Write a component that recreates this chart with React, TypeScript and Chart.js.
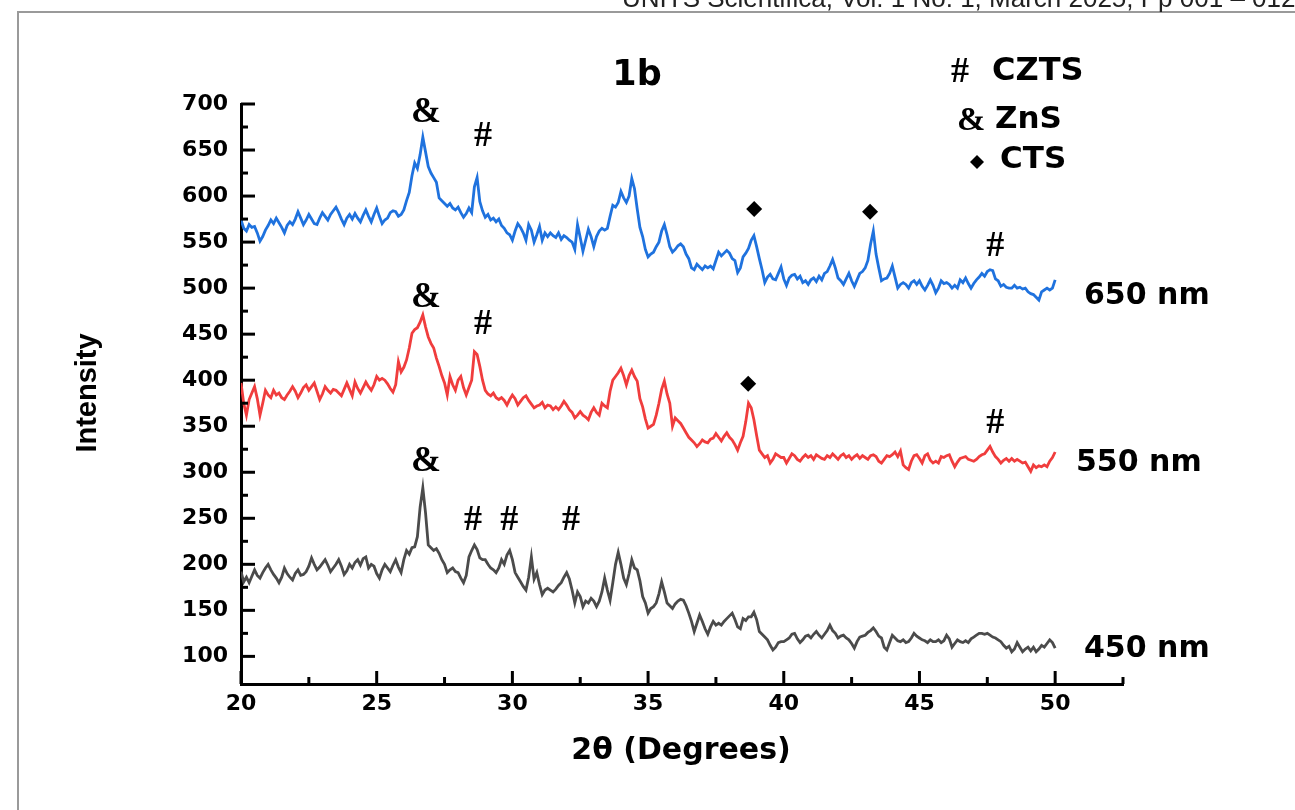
import React, { useEffect, useRef } from "react";
import { Chart, registerables } from "chart.js";

Chart.register(...registerables);

// 2θ sampling grid: 20.0 .. 50.0 every 0.1 degree
const THETA_START = 20;
const THETA_STEP = 0.1;

const intensity650 = [
  574, 565, 562, 569, 566, 567, 560, 551, 556, 563,
  568, 574, 570, 576, 571, 566, 560, 568, 572, 569,
  575, 583, 576, 569, 574, 580, 575, 570, 569, 576,
  582, 578, 574, 580, 584, 588, 582, 575, 569, 576,
  580, 575, 581, 576, 572, 579, 585, 578, 572, 580,
  587, 578, 570, 574, 576, 582, 584, 583, 578, 580,
  585, 595, 604, 622, 636, 630, 645, 664, 648, 632,
  625, 620, 615, 598, 595, 592, 589, 592, 587, 585,
  588, 582, 577, 581, 587, 582, 610, 620, 594, 584,
  577, 580, 574, 576, 572, 575, 568, 565, 560, 558,
  552, 562, 570, 566, 560, 552, 569, 563, 550, 558,
  567, 552, 560, 556, 560, 557, 555, 560, 553, 557,
  555, 552, 550, 542, 569, 555, 540, 552, 564, 556,
  545, 556, 562, 565, 563, 565, 578, 590, 588, 593,
  605, 598, 593, 600, 619, 608, 586, 566, 556, 542,
  534, 537, 539, 545, 550, 562, 569, 558, 545, 539,
  542, 546, 548, 545, 537, 532, 522, 520, 526, 523,
  520, 524, 522, 524, 521, 530, 539, 535, 538, 541,
  538, 532, 530, 517, 522, 534, 538, 543, 552, 557,
  545, 532, 520, 506, 512, 515, 510, 509, 516, 523,
  510, 503, 511, 514, 515, 510, 513, 506, 508, 504,
  509, 511, 507, 513, 509, 516, 518, 524, 531, 522,
  511, 508, 504, 510, 516, 508, 502, 509, 516, 518,
  522, 530, 548, 562, 537, 522, 508, 510, 511, 516,
  524, 512, 500, 504, 506, 504, 500, 506, 508, 504,
  508, 502, 498, 503, 509, 503, 495, 500, 508, 505,
  506, 504, 500, 503, 500, 509, 506, 511, 505, 500,
  505, 509, 512, 516, 513, 518, 520, 519, 510, 508,
  502, 504, 501, 500, 500, 503, 500, 501, 499, 500,
  496, 494, 493, 490, 487, 496, 498, 500, 498, 500,
  509,
];

const intensity550 = [
  397, 375, 362, 379, 386, 393, 380, 362, 375, 389,
  384, 381, 389, 384, 386, 381, 379, 384, 388, 393,
  388, 381, 386, 392, 395, 389, 393, 397, 388, 379,
  385, 393, 389, 386, 390, 389, 386, 383, 390, 397,
  390, 383, 398, 391, 386, 392, 398, 393, 389, 395,
  404, 400, 402, 400, 396, 391, 387, 395, 420, 409,
  414, 422, 435, 451, 455, 457, 463, 471, 458, 447,
  440, 435, 424, 415, 405, 397, 384, 404, 395, 389,
  400, 404, 392, 384, 392, 400, 431, 428, 415, 400,
  389, 385, 383, 386, 381, 379, 381, 378, 373, 379,
  384, 380, 373, 377, 381, 383, 378, 374, 370, 372,
  373, 376, 370, 373, 372, 368, 371, 368, 372, 377,
  373, 368, 365, 359, 362, 366, 362, 360, 357, 365,
  370, 365, 362, 375, 372, 370, 388, 400, 404, 408,
  413, 405, 395, 405, 411, 404, 399, 380, 371, 358,
  348, 350, 352, 362, 375, 390, 399, 385, 375, 350,
  359, 356, 353, 348, 343, 338, 335, 332, 328, 331,
  335, 333, 332, 336, 337, 342, 338, 334, 339, 343,
  338, 335, 330, 324, 332, 339, 355, 375, 370, 357,
  340, 324, 320, 316, 318, 310, 314, 320, 318, 316,
  316, 310, 315, 320, 318, 314, 312, 316, 319, 316,
  318, 314, 319, 317, 315, 314, 318, 316, 320, 317,
  314, 318, 320, 316, 318, 314, 317, 319, 315, 318,
  316, 314, 318, 319, 317, 312, 310, 314, 318, 317,
  319, 322, 317, 323, 308, 305, 303, 312, 318, 319,
  315, 310, 318, 320, 313, 310, 312, 310, 317, 316,
  318, 319, 312, 306, 311, 315, 316, 317, 314, 313,
  312, 314, 317, 319, 320, 324, 328, 322, 317, 314,
  310, 313, 315, 312, 315, 312, 314, 312, 310, 311,
  306, 301, 308, 305, 307, 306, 308, 306, 312, 316,
  322,
];

const intensity450 = [
  192, 181, 186, 180, 187, 194, 188, 185, 191, 196,
  200, 194, 189, 185, 180, 186, 196, 190, 186, 183,
  190, 194, 188, 189, 192, 198, 207, 200, 194, 197,
  201, 205, 199, 192, 196, 200, 205, 198, 189, 193,
  200, 196, 202, 205, 199, 206, 208, 196, 200, 198,
  190, 185, 194, 200, 196, 192, 199, 205, 197, 191,
  205, 215, 211, 218, 219, 230, 262, 283, 256, 221,
  218, 215, 217, 212, 205, 200, 191, 194, 196, 192,
  191, 185, 180, 188, 208, 215, 221, 216, 207, 205,
  205, 200, 196, 194, 191, 196, 205, 200, 210, 215,
  205, 191, 186, 181, 176, 172, 186, 208, 184, 191,
  178, 167, 172, 174, 172, 170, 173, 177, 180, 186,
  191, 184, 172, 158, 170, 165, 154, 160, 158, 163,
  160, 154, 160, 170, 185, 172, 161, 180, 200, 213,
  200, 185, 178, 190, 205, 196, 194, 182, 165, 158,
  147, 152, 154, 158, 168, 181, 170, 158, 155, 152,
  157, 160, 162, 161, 155, 147, 138, 127, 136, 145,
  138, 130, 124, 132, 138, 134, 136, 134, 138, 141,
  144, 147, 140, 132, 130, 141, 139, 143, 143, 148,
  140, 127, 124, 121, 118, 112, 107, 110, 115, 116,
  116, 118, 120, 124, 125, 119, 115, 118, 122, 123,
  120, 124, 127, 123, 120, 124, 128, 134, 128, 125,
  120, 122, 123, 120, 118, 114, 109, 116, 121, 122,
  123, 126, 128, 131, 127, 122, 120, 110, 107, 115,
  123, 120, 117, 116, 118, 115, 116, 120, 125, 122,
  120, 118, 117, 115, 118, 116, 116, 118, 115, 117,
  123, 119, 110, 114, 118, 116, 115, 117, 115, 119,
  121, 123, 125, 125, 124, 125, 123, 121, 120, 118,
  116, 112, 109, 111, 105, 108, 115, 110, 105, 108,
  110, 106, 110, 105, 108, 112, 110, 114, 118, 115,
  109,
];

const seriesNames = ["450 nm", "550 nm", "650 nm"];
const xTickValues = [20, 25, 30, 35, 40, 45, 50];
const xMinorValues = [22.5, 27.5, 32.5, 37.5, 42.5, 47.5, 52.5];
const yTickValues = [100, 150, 200, 250, 300, 350, 400, 450, 500, 550, 600, 650, 700];
const yMinorValues = [125, 175, 225, 275, 325, 375, 425, 475, 525, 575, 625, 675];

// phase annotations (2θ, intensity)
const znsMarks = [[26.82, 691], [26.82, 490], [26.82, 311]];
const cztsMarks = [[28.92, 664], [28.92, 460], [28.55, 247], [29.88, 247], [32.16, 247], [47.79, 545], [47.79, 353]];
const ctsMarks = [[38.91, 586], [43.18, 583], [38.69, 396]];

const SANS = '"DejaVu Sans"';
const SERIF = '"Liberation Serif"';

function toPoints(values: number[]) {
  return values.map((v, i) => ({ x: +(THETA_START + i * THETA_STEP).toFixed(2), y: v }));
}

function drawDiamond(ctx: CanvasRenderingContext2D, x: number, y: number, r: number) {
  ctx.beginPath();
  ctx.moveTo(x, y - r);
  ctx.lineTo(x + r, y);
  ctx.lineTo(x, y + r);
  ctx.lineTo(x - r, y);
  ctx.closePath();
  ctx.fill();
}

const decorPlugin = {
  id: "decor",
  beforeDraw(chart: any) {
    const ctx: CanvasRenderingContext2D = chart.ctx;
    ctx.save();
    ctx.fillStyle = "#ffffff";
    ctx.fillRect(0, 0, chart.width, chart.height);
    ctx.strokeStyle = "#9a9a9a";
    ctx.lineWidth = 2;
    ctx.beginPath();
    ctx.moveTo(18, chart.height);
    ctx.lineTo(18, 12);
    ctx.lineTo(chart.width, 12);
    ctx.stroke();
    ctx.fillStyle = "#222";
    ctx.font = '26px "Liberation Sans"';
    ctx.textBaseline = "alphabetic";
    ctx.textAlign = "left";
    ctx.fillText("UNITS Scientifica, Vol. 1 No. 1, March 2025, Pp 001 \u2013 012", 622, 7);
    ctx.restore();
  },
  afterDraw(chart: any) {
    const ctx: CanvasRenderingContext2D = chart.ctx;
    const xs = chart.scales.x;
    const ys = chart.scales.y;
    const { left, bottom } = chart.chartArea;
    ctx.save();
    ctx.strokeStyle = "#000";
    ctx.lineWidth = 3;
    ctx.lineCap = "butt";
    const line = (x1: number, y1: number, x2: number, y2: number) => {
      ctx.beginPath();
      ctx.moveTo(x1, y1);
      ctx.lineTo(x2, y2);
      ctx.stroke();
    };
    xTickValues.forEach((v) => {
      const px = xs.getPixelForValue(v);
      line(px, bottom, px, bottom - 13);
    });
    xMinorValues.forEach((v) => {
      const px = xs.getPixelForValue(v);
      line(px, bottom, px, bottom - 7);
    });
    yTickValues.forEach((v) => {
      const py = ys.getPixelForValue(v);
      line(left, py, left + 14, py);
    });
    yMinorValues.forEach((v) => {
      const py = ys.getPixelForValue(v);
      line(left, py, left + 7, py);
    });

    ctx.fillStyle = "#000";
    ctx.textAlign = "center";
    ctx.textBaseline = "middle";
    // annotations
    ctx.font = `bold 36px ${SERIF}`;
    znsMarks.forEach(([t, v]) => ctx.fillText("&", xs.getPixelForValue(t), ys.getPixelForValue(v)));
    ctx.font = `bold 36px ${SERIF}`;
    cztsMarks.forEach(([t, v]) => ctx.fillText("#", xs.getPixelForValue(t), ys.getPixelForValue(v)));
    ctsMarks.forEach(([t, v]) => drawDiamond(ctx, xs.getPixelForValue(t), ys.getPixelForValue(v), 8));

    // title
    ctx.font = `bold 35px ${SANS}`;
    ctx.fillText("1b", 637, 76);

    // legend
    ctx.textAlign = "left";
    ctx.font = `bold 36px ${SERIF}`;
    ctx.fillText("#", 951, 73);
    ctx.font = `bold 32px ${SANS}`;
    ctx.fillText("CZTS", 992, 72);
    ctx.font = `bold 34px ${SERIF}`;
    ctx.fillText("&", 957, 121);
    ctx.font = `bold 31px ${SANS}`;
    ctx.fillText("ZnS", 995, 120);
    drawDiamond(ctx, 977, 162, 7);
    ctx.fillText("CTS", 1000, 160);

    // series labels
    ctx.font = `bold 30px ${SANS}`;
    ctx.fillText(seriesNames[2], 1084, 296);
    ctx.fillText(seriesNames[1], 1076, 463);
    ctx.fillText(seriesNames[0], 1084, 649);

    // axis titles
    ctx.textAlign = "center";
    ctx.font = `bold 30px ${SANS}`;
    ctx.fillText("2\u03b8 (Degrees)", 681, 751);
    ctx.save();
    ctx.translate(88, 393);
    ctx.rotate(-Math.PI / 2);
    ctx.font = 'bold 29px "Liberation Sans"';
    ctx.fillText("Intensity", 0, 0);
    ctx.restore();
    ctx.restore();
  },
};

export default function App() {
  const canvasRef = useRef<HTMLCanvasElement | null>(null);

  useEffect(() => {
    const canvas = canvasRef.current;
    if (!canvas) return;
    const tickFont = { family: SANS, weight: "bold" as const, size: 22 };
    const chart = new Chart(canvas, {
      type: "line",
      data: {
        datasets: [
          { label: seriesNames[0], data: toPoints(intensity450), borderColor: "#4b4b4b", borderWidth: 2.8, pointRadius: 0, tension: 0, fill: false },
          { label: seriesNames[1], data: toPoints(intensity550), borderColor: "#f03d3d", borderWidth: 2.8, pointRadius: 0, tension: 0, fill: false },
          { label: seriesNames[2], data: toPoints(intensity650), borderColor: "#1f72de", borderWidth: 2.8, pointRadius: 0, tension: 0, fill: false },
        ],
      },
      options: {
        animation: false,
        responsive: false,
        maintainAspectRatio: false,
        layout: { padding: { left: 0, top: 104, right: 172, bottom: 0 } },
        plugins: {
          legend: { display: false },
          tooltip: { enabled: false },
          title: { display: false },
        },
        scales: {
          x: {
            type: "linear",
            min: 20,
            max: 52.5,
            grid: { display: false, drawTicks: false },
            border: { display: true, color: "#000", width: 3 },
            ticks: { font: tickFont, color: "#000", padding: 7, maxRotation: 0, autoSkip: false },
            afterBuildTicks: (s: any) => {
              s.ticks = xTickValues.map((v) => ({ value: v }));
            },
            afterFit: (s: any) => {
              s.height = 810 - 684;
            },
          },
          y: {
            type: "linear",
            min: 70,
            max: 700,
            grid: { display: false, drawTicks: false },
            border: { display: true, color: "#000", width: 3 },
            ticks: { font: tickFont, color: "#000", padding: 13, autoSkip: false },
            afterBuildTicks: (s: any) => {
              s.ticks = yTickValues.map((v) => ({ value: v }));
            },
            afterFit: (s: any) => {
              s.width = 241;
            },
          },
        },
      },
      plugins: [decorPlugin],
    });
    return () => chart.destroy();
  }, []);

  return (
    <div style={{ position: "fixed", left: 0, top: 0, width: 1295, height: 810, background: "#fff" }}>
      <canvas ref={canvasRef} width={1295} height={810} style={{ width: 1295, height: 810, display: "block" }} />
    </div>
  );
}
